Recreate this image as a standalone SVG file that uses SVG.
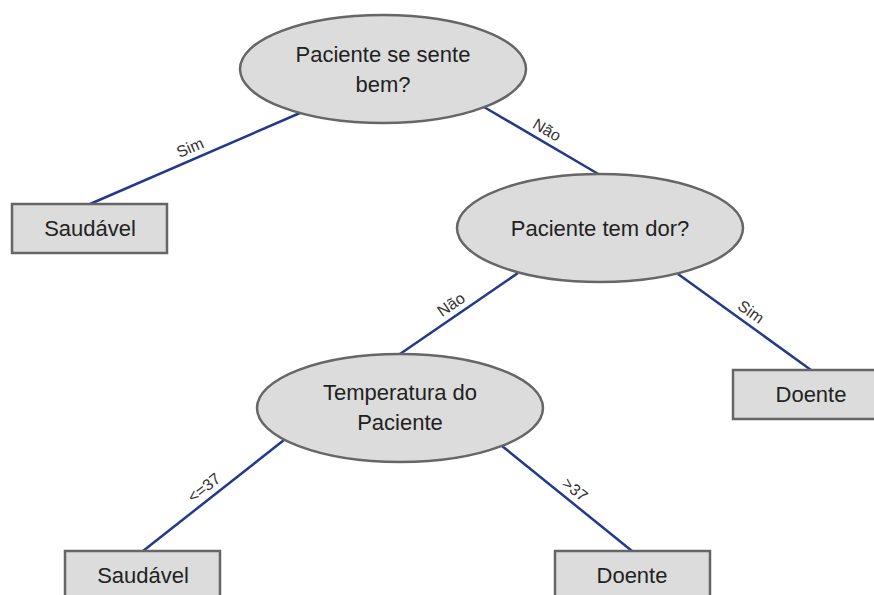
<svg xmlns="http://www.w3.org/2000/svg" width="874" height="595" viewBox="0 0 874 595">
<style>
.node{fill:#dcdcdc;stroke:#666;stroke-width:2.5}
.t{font-family:"Liberation Sans",Arial,sans-serif;font-size:22px;fill:#222;text-anchor:middle}
.e{stroke:#233a8c;stroke-width:2.5;fill:none}
.l{font-family:"Liberation Sans",Arial,sans-serif;font-size:16px;fill:#333;text-anchor:middle}
</style>
<rect width="874" height="595" fill="#fff"/>
<g id="connectors">
<line class="e" x1="300" y1="113" x2="90" y2="204"/>
<line class="e" x1="484" y1="107" x2="600" y2="175"/>
<line class="e" x1="518" y1="273" x2="400" y2="354"/>
<line class="e" x1="678" y1="274" x2="811" y2="370"/>
<line class="e" x1="284" y1="440" x2="143" y2="551"/>
<line class="e" x1="502" y1="446" x2="632" y2="551"/>
<text class="l" transform="translate(194.8,158.6) rotate(-23.4)" y="-6.5">Sim</text>
<text class="l" transform="translate(540.9,140.3) rotate(30.4)" y="-6.5">Não</text>
<text class="l" transform="translate(457.8,314.3) rotate(-34.5)" y="-6.5">Não</text>
<text class="l" transform="translate(744,321.6) rotate(35.8)" y="-6.5">Sim</text>
<text class="l" transform="translate(211.4,497.2) rotate(-38.2)" y="-6.5">&lt;=37</text>
<text class="l" transform="translate(567.5,498.9) rotate(38.9)" y="-6.5">&gt;37</text>
</g>
<g id="n1">
<ellipse class="node" cx="383" cy="69" rx="143" ry="54"/>
<text class="t" x="383" y="62">Paciente se sente</text>
<text class="t" x="383" y="92">bem?</text>
</g>
<g id="n2">
<rect class="node" x="12" y="204" width="155" height="49"/>
<text class="t" x="90" y="236">Saudável</text>
</g>
<g id="n3">
<ellipse class="node" cx="600" cy="228" rx="143" ry="54"/>
<text class="t" x="600" y="236">Paciente tem dor?</text>
</g>
<g id="n4">
<ellipse class="node" cx="400" cy="408" rx="143" ry="54"/>
<text class="t" x="400" y="400">Temperatura do</text>
<text class="t" x="400" y="430">Paciente</text>
</g>
<g id="n5">
<rect class="node" x="733" y="370" width="156" height="49"/>
<text class="t" x="811" y="402">Doente</text>
</g>
<g id="n6">
<rect class="node" x="65" y="551" width="155" height="49"/>
<text class="t" x="143" y="583">Saudável</text>
</g>
<g id="n7">
<rect class="node" x="555" y="551" width="155" height="49"/>
<text class="t" x="632" y="583">Doente</text>
</g>
</svg>
